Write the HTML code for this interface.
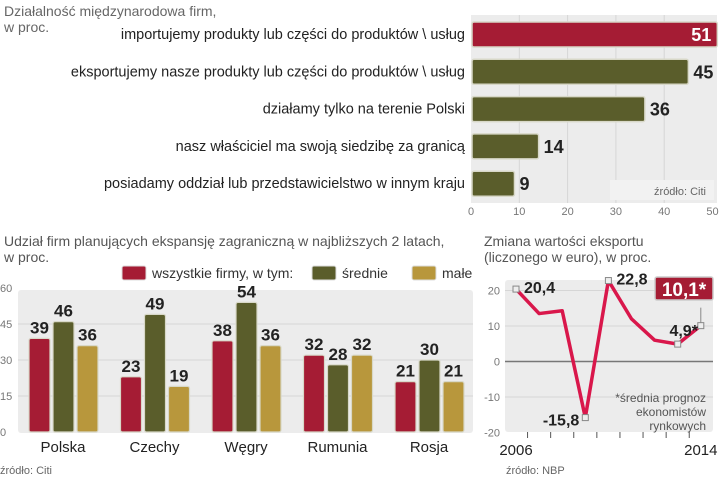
<!DOCTYPE html>
<html><head><meta charset="utf-8"><style>
html,body{margin:0;padding:0;background:#fff;}
svg{display:block;font-family:"Liberation Sans Narrow","Liberation Sans",sans-serif;}
</style></head><body>
<svg id="c" width="720" height="480" xmlns="http://www.w3.org/2000/svg"></svg>
<script>
// ---- top chart data
const topLabels=["importujemy produkty lub części do produktów \\ usług","eksportujemy nasze produkty lub części do produktów \\ usług","działamy tylko na terenie Polski","nasz właściciel ma swoją siedzibę za granicą","posiadamy oddział lub przedstawicielstwo w innym kraju"];
const topValues=[51,45,36,14,9];
const topTicks=[0,10,20,30,40,50];
// ---- grouped bar data
const countries=["Polska","Czechy","Węgry","Rumunia","Rosja"];
const allFirms=[39,23,38,32,21];
const mediumFirms=[46,49,54,28,30];
const smallFirms=[36,19,36,32,21];
const groupTicks=[0,15,30,45,60];
// ---- line chart data
const years=[2006,2007,2008,2009,2010,2011,2012,2013,2014];
const exportChange=[20.4,13.5,14.3,-15.8,22.8,12,6,4.9,10.1];
const lineTicks=[-20,-10,0,10,20];

const S=document.getElementById('c');const NS="http://www.w3.org/2000/svg";
function el(t,a,txt){const e=document.createElementNS(NS,t);for(const k in a)e.setAttribute(k,a[k]);if(txt!==undefined)e.textContent=txt;S.appendChild(e);return e;}
const RED="#a51c34",OLIVE="#5a5d2b",GOLD="#b8973c",GRAY="#777";

// ===== top chart
const tx=v=>471+v*4.83;
let e=el('text',{x:4,y:16,'font-size':14,fill:'#666'},'Działalność międzynarodowa firm,');

e=el('text',{x:4,y:32,'font-size':14,fill:'#666'},'w proc.');

e=el('rect',{x:471,y:15,width:246,height:188,fill:'#ececec'});

topTicks.forEach(t=>{
  if(t>0&&t<50){e=el('line',{x1:tx(t),x2:tx(t),y1:15,y2:203,stroke:'#d6d6d6'});}
  e=el('text',{x:tx(t),y:215,'font-size':11,fill:'#777','text-anchor':'middle'},t);
  
});
topValues.forEach((v,i)=>{
  const cy=34+i*37.3;
  e=el('text',{x:465,y:cy+5,'font-size':14.5,fill:'#222','text-anchor':'end'},topLabels[i]);
  
  e=el('rect',{x:472,y:cy-12,width:tx(v)-472,height:25,fill:i==0?RED:OLIVE,stroke:'#d8d8c8','stroke-width':1.5,rx:2});
  
  if(i==0){e=el('text',{x:tx(v)-6,y:cy+7,'font-size':18,'font-weight':'bold',fill:'#fff','text-anchor':'end'},v);}
  else{e=el('text',{x:tx(v)+5,y:cy+7,'font-size':18,'font-weight':'bold',fill:'#222'},v);}
  
});
e=el('rect',{x:610,y:180,width:104,height:20,fill:'#f2f2f2'});

e=el('text',{x:706,y:195,'font-size':11,fill:'#666','text-anchor':'end'},'źródło: Citi');


// ===== grouped bar chart
const gy=v=>432-v*2.4;
e=el('text',{x:4,y:246,'font-size':14,fill:'#555'},'Udział firm planujących ekspansję zagraniczną w najbliższych 2 latach,');

e=el('text',{x:4,y:262,'font-size':14,fill:'#555'},'w proc.');

const legend=[["wszystkie firmy, w tym:",RED,122],["średnie",OLIVE,312],["małe",GOLD,412]];
legend.forEach(l=>{
  e=el('rect',{x:l[2],y:266,width:24,height:14,fill:l[1],stroke:'#ddd',rx:2});
  
  e=el('text',{x:l[2]+30,y:278,'font-size':14,fill:'#333'},l[0]);
  
});
e=el('rect',{x:18,y:290,width:455,height:143,fill:'#ececec',rx:3});

groupTicks.forEach(t=>{
  if(t>0&&t<60){e=el('line',{x1:18,x2:473,y1:gy(t),y2:gy(t),stroke:'#d6d6d6'});}
  e=el('text',{x:0,y:gy(t)+4,'font-size':11,fill:'#777'},t);
  
});
const series=[[allFirms,RED],[mediumFirms,OLIVE],[smallFirms,GOLD]];
countries.forEach((c,i)=>{
  const gx=29+i*91.5;
  series.forEach((s,j)=>{
    const v=s[0][i],x=gx+j*24;
    e=el('rect',{x:x,y:gy(v),width:21,height:432-gy(v),fill:s[1],stroke:'#d8d8c8','stroke-width':1.2,rx:2});
    
    e=el('text',{x:x+10.5,y:gy(v)-5,'font-size':17,'font-weight':'bold',fill:'#222','text-anchor':'middle'},v);
    
  });
  e=el('text',{x:gx+34,y:452,'font-size':15,fill:'#222','text-anchor':'middle'},c);
  
});
e=el('text',{x:0,y:474,'font-size':11,fill:'#666'},'źródło: Citi');


// ===== line chart
const lx=i=>516+i*23.1, ly=v=>361.5-v*3.55;
e=el('text',{x:484,y:246,'font-size':14,fill:'#555'},'Zmiana wartości eksportu');

e=el('text',{x:484,y:262,'font-size':14,fill:'#555'},'(liczonego w euro), w proc.');

e=el('rect',{x:505,y:280,width:208,height:152,fill:'#ececec',rx:3});

lineTicks.forEach(t=>{
  if(t>-20){e=el('line',{x1:505,x2:713,y1:ly(t),y2:ly(t),stroke:t==0?'#777':'#d6d6d6','stroke-width':t==0?1.5:1});}
  e=el('text',{x:500,y:ly(t)+4,'font-size':11,fill:'#777','text-anchor':'end'},t);
  
});
for(let i=0;i<years.length-1;i++){
  e=el('line',{x1:lx(i+0.5),x2:lx(i+0.5),y1:432,y2:438,stroke:'#555'});
  
}
[0,years.length-1].forEach(i=>{
  e=el('text',{x:lx(i),y:455,'font-size':15,fill:'#222','text-anchor':'middle'},years[i]);
  
});
const pts=exportChange.map((v,i)=>lx(i)+','+ly(v)).join(' ');
e=el('polyline',{points:pts,fill:'none',stroke:'#d9174b','stroke-width':3.5,'stroke-linejoin':'round'});

const marked=[0,3,4,7,8];
marked.forEach(i=>{
  e=el('rect',{x:lx(i)-3,y:ly(exportChange[i])-3,width:6,height:6,fill:'#eee',stroke:'#888'});
  
});
const fmt=v=>String(v).replace('.',',');
e=el('text',{x:lx(0)+8,y:ly(20.4)+4,'font-size':16,'font-weight':'bold',fill:'#222'},fmt(exportChange[0]));

e=el('text',{x:lx(3)-6,y:ly(-15.8)+8,'font-size':16,'font-weight':'bold',fill:'#222','text-anchor':'end'},fmt(exportChange[3]));

e=el('text',{x:lx(4)+8,y:ly(22.8)+4,'font-size':16,'font-weight':'bold',fill:'#222'},fmt(exportChange[4]));

e=el('text',{x:lx(7)+6,y:ly(4.9)-8,'font-size':16,'font-weight':'bold',fill:'#222','text-anchor':'middle'},fmt(exportChange[7])+'*');

e=el('line',{x1:lx(8),x2:lx(8),y1:ly(10.1)-3,y2:ly(10.1)-18,stroke:'#888'});

e=el('rect',{x:655,y:277,width:58,height:23,fill:RED,stroke:'#ccc','stroke-width':1.5,rx:2});

e=el('text',{x:684,y:296,'font-size':19,'font-weight':'bold',fill:'#fff','text-anchor':'middle'},fmt(exportChange[8])+'*');

['*średnia prognoz','ekonomistów','rynkowych'].forEach((t,k)=>{
  e=el('text',{x:706,y:402+k*14,'font-size':12,fill:'#555','text-anchor':'end'},t);
  
});
e=el('text',{x:506,y:474,'font-size':11,fill:'#666'},'źródło: NBP');

</script>
</body></html>
